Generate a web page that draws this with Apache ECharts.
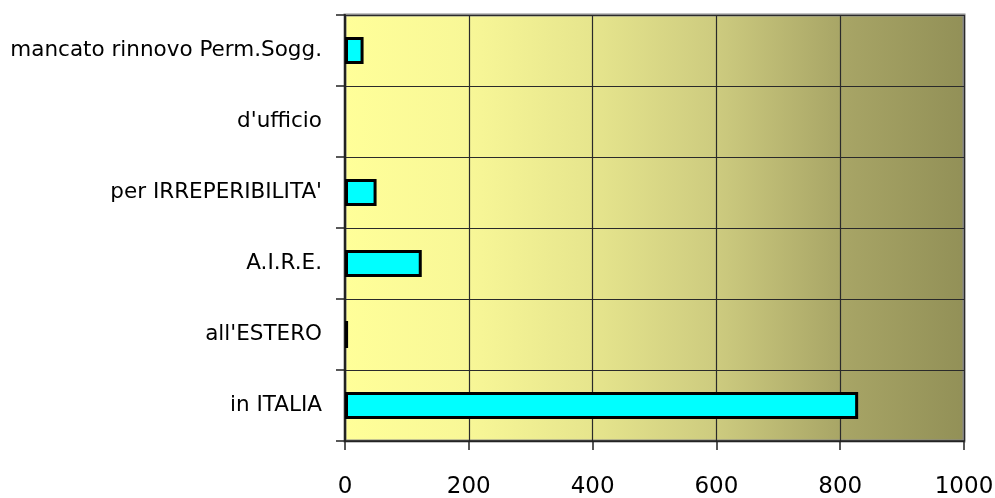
<!DOCTYPE html>
<html>
<head>
<meta charset="utf-8">
<script src="https://cdn.jsdelivr.net/npm/echarts@6/dist/echarts.min.js"></script>
<style>
html,body{margin:0;padding:0;background:#fff;}
#chart{width:995px;height:498px;}
</style>
</head>
<body>
<div id="chart"></div>
<script>
var categories = ["in ITALIA", "all'ESTERO", "A.I.R.E.", "per IRREPERIBILITA'", "d'ufficio", "mancato rinnovo Perm.Sogg."];
var values = [829, 5, 124, 51, 0, 30];
var xTicks = [0, 200, 400, 600, 800, 1000];

var FONT = "'Comic Sans MS', 'DejaVu Sans', sans-serif";
var chart = echarts.init(document.getElementById('chart'), null, {renderer: 'canvas'});
chart.setOption({
  animation: false,
  grid: {
    left: 345, right: 31, top: 15, bottom: 57,
    outerBoundsMode: 'none',
    containLabel: false,
    show: true,
    borderWidth: 3,
    borderColor: '#8a8a8a',
    backgroundColor: new echarts.graphic.LinearGradient(0, 0, 1, 0, [
      {offset: 0, color: '#FFFF99'},
      {offset: 0.2, color: '#F8F797'},
      {offset: 0.4, color: '#E6E58D'},
      {offset: 0.6, color: '#CDCB7F'},
      {offset: 0.8, color: '#A8A566'},
      {offset: 1, color: '#929057'}
    ])
  },
  xAxis: {
    type: 'value',
    min: xTicks[0], max: xTicks[xTicks.length - 1], interval: 200,
    axisLine: {show: true, onZero: false, lineStyle: {color: '#222', width: 1.5}},
    axisTick: {show: true, length: 9, lineStyle: {color: '#222', width: 1.5}},
    axisLabel: {color: '#000', fontSize: 23, fontFamily: FONT, margin: 35,
      formatter: function (v) { return String(v); }},
    splitLine: {show: true, lineStyle: {color: '#2a2a2a', width: 1.2}}
  },
  yAxis: {
    type: 'category',
    data: categories,
    axisLine: {show: true, lineStyle: {color: '#222', width: 2}},
    axisTick: {show: true, length: 9, lineStyle: {color: '#222', width: 1.5}},
    axisLabel: {color: '#000', fontSize: 21.5, fontFamily: FONT, margin: 23},
    splitLine: {show: true, lineStyle: {color: '#2a2a2a', width: 1.2}}
  },
  series: [{
    type: 'bar',
    data: values.map(function (v) {
      return v === 0 ? {value: v, itemStyle: {borderWidth: 0}} : v;
    }),
    barWidth: 27,
    itemStyle: {color: '#00FFFF', borderColor: '#000', borderWidth: 3}
  }]
});
</script>
</body>
</html>
